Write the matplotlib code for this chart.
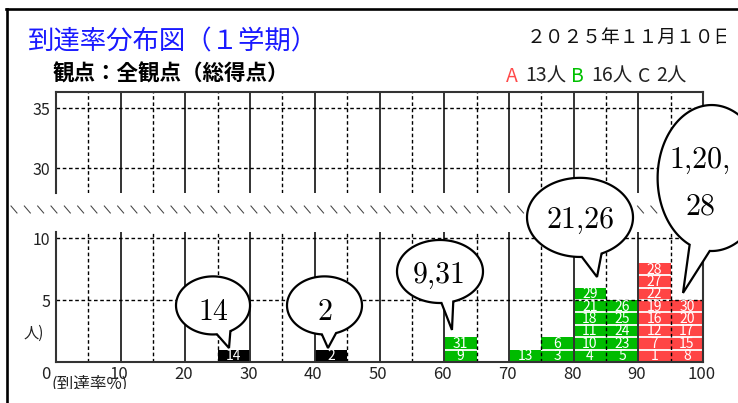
import matplotlib
matplotlib.use("Agg")
import matplotlib.pyplot as plt
import matplotlib.transforms as mtransforms
from matplotlib.lines import Line2D
from matplotlib.path import Path
from matplotlib.patches import PathPatch
import numpy as np

# ---------------- data ----------------
bin_starts = [25, 40, 60, 70, 75, 80, 85, 90, 95]
bin_students = [
    [14],
    [2],
    [9, 31],
    [13],
    [3, 6],
    [4, 10, 11, 18, 21, 29],
    [5, 23, 24, 25, 26],
    [1, 7, 12, 16, 19, 22, 27, 28],
    [8, 15, 17, 20, 30],
]
bin_grades = ["C", "C", "B", "B", "B", "B", "B", "A", "A"]
grade_names = ["A", "B", "C"]

callout_texts = ["14", "2", "9,31", "21,26", "1,20,\n28"]
callout_bins = [25, 40, 60, 80, 95]

x_ticks = [0, 10, 20, 30, 40, 50, 60, 70, 80, 90, 100]
y_ticks_low = [5, 10]
y_ticks_high = [30, 35]

title_text = "到達率分布図（１学期）"
subtitle_text = "観点：全観点（総得点）"
date_text = "２０２５年１１月１０日"
x_label_text = "(到達率%)"
y_label_text = "人)"
unit_text = "人"

# ---------------- style ----------------
W, H = 738, 403
CJK = ["Noto Sans CJK JP", "DejaVu Sans"]
NARROW = ["Liberation Sans Narrow", "Noto Sans CJK JP", "DejaVu Sans"]
grade_colors = {"A": "#ff4444", "B": "#00bb00", "C": "#000000"}
legend_colors = {"A": "#ff4a4a", "B": "#00c000", "C": "#222222"}
grid_solid = "#333333"
dash = (0, (2.6, 1.9))

fig = plt.figure(figsize=(W / 100, H / 100), dpi=100)


def fx(px):
    return px / W


def fy(py):
    return 1 - py / H


# upper (broken) panel first so the lower panel's callouts sit above it
ax_top = fig.add_axes([fx(56), fy(193), (703 - 56) / W, (193 - 92) / H])
ax_bot = fig.add_axes([fx(56), fy(362), (703 - 56) / W, (362 - 232) / H])
ax_top.set_ylim(27.94, 36.36)
ax_bot.set_ylim(0, 10.5)

for ax, yt in ((ax_top, y_ticks_high), (ax_bot, y_ticks_low)):
    ax.set_xlim(0, 100)
    ax.set_facecolor("none")
    for v in range(10, 100, 10):
        ax.axvline(v, color=grid_solid, lw=1.4, zorder=2)
    for v in range(5, 100, 10):
        ax.axvline(v, color="black", lw=1.0, ls=dash, zorder=2)
    for v in yt:
        ax.axhline(v, color="black", lw=1.0, ls=dash, zorder=2)
    for s in ax.spines.values():
        s.set_color(grid_solid)
        s.set_linewidth(1.5)
        s.set_zorder(2.5)
    ax.set_xticks([])
    ax.set_yticks(yt, [str(v) for v in yt], fontfamily=NARROW, fontsize=11.5,
                  color="#222222")
    ax.tick_params(axis="y", length=0, pad=4.3)

ax_top.spines["bottom"].set_visible(False)
ax_bot.spines["top"].set_visible(False)

# stacked student cells
for start, ids, g in zip(bin_starts, bin_students, bin_grades):
    n = len(ids)
    levels = np.arange(n)
    ax_bot.bar([start] * n, [1] * n, width=5, bottom=levels, align="edge",
               color=grade_colors[g], linewidth=0, zorder=1)
    if n > 1:
        ax_bot.hlines(levels[1:], start, start + 5, color="white", lw=1.3,
                      zorder=1.5)
    for k, sid in enumerate(ids):
        ax_bot.text(start + 2.5, k + 0.47, str(sid), color="white",
                    fontfamily=NARROW, fontsize=10, ha="center",
                    va="center", zorder=3)

# x tick labels
xlab_tf = mtransforms.blended_transform_factory(ax_bot.transData,
                                                ax_bot.transAxes)
for v in x_ticks:
    if v == 0:
        ha, dx = "right", -6
    else:
        ha, dx = "center", -1.5
    off = mtransforms.ScaledTranslation(dx / 100, -4 / 100, fig.dpi_scale_trans)
    ax_bot.text(v, 0, str(v), transform=xlab_tf + off, ha=ha, va="top",
                fontfamily=NARROW, fontsize=12, color="#222222")

# speech-bubble callouts: centre, size, tail gap angles, tip offset, text spot
callout_layout = [
    (24.27, 4.57, 11.44, 4.69, -84, -62, 1.74, 0.13, 24.27, 3.40),
    (41.50, 4.57, 11.59, 4.69, -94, -72, 2.04, 0.13, 41.50, 3.40),
    (59.35, 7.31, 13.29, 5.09, -88, -72, 1.20, 0.59, 59.20, 6.39),
    (80.99, 11.68, 16.38, 6.39, -88, -66, 3.62, 0.87, 81.07, 10.83),
    (101.33, 14.86, 16.69, 11.79, -114, -92, 1.91, 0.58, 99.54, 15.67),
]
bar_height = {s: len(ids) for s, ids in zip(bin_starts, bin_students)}
line_gap = 47 / 12.38

for txt, b, lay in zip(callout_texts, callout_bins, callout_layout):
    cx, cy, w, h, t1, t2, tdx, tgap, tx, tby = lay
    tip = (b + tdx, bar_height[b] + tgap)
    ts = np.radians(np.linspace(t2, t1 + 360, 240))
    xs = cx + w / 2 * np.cos(ts)
    ys = cy + h / 2 * np.sin(ts)
    verts = list(zip(xs, ys)) + [tip, (xs[0], ys[0])]
    codes = [Path.MOVETO] + [Path.LINETO] * (len(verts) - 2) + [Path.CLOSEPOLY]
    patch = PathPatch(Path(verts, codes), facecolor="white", edgecolor="black",
                      lw=1.6, joinstyle="miter", transform=ax_bot.transData,
                      clip_on=False, zorder=6)
    ax_bot.add_patch(patch)
    for i, line in enumerate(txt.split("\n")):
        ax_bot.text(tx, tby - i * line_gap, line, fontfamily=["cmr10", "DejaVu Serif"],
                    fontsize=21.5, ha="center", va="baseline", zorder=7,
                    clip_on=False)

# axis break marks between the panels
for k in range(54):
    x0 = 11 + 13.33 * k
    fig.add_artist(Line2D([fx(x0), fx(x0 + 6)], [fy(206), fy(213)],
                          color="#444444", lw=0.75, zorder=-1))

# outer frame
fig.add_artist(Line2D([fx(6), fx(W + 2)], [fy(8.5), fy(8.5)], color="black",
                      lw=1.9, zorder=4))
fig.add_artist(Line2D([fx(7), fx(7)], [fy(8.5), fy(H + 2)], color="black",
                      lw=1.9, zorder=4))

# headings
fig.text(fx(28), fy(41.5), title_text, color="#1a1aff", fontsize=19,
         fontfamily=CJK, ha="left", va="center")
fig.text(fx(53), fy(73.5), subtitle_text, color="black", fontsize=15.5,
         fontweight="bold", fontfamily=CJK, ha="left", va="center")
date = fig.text(fx(527), fy(37.5), date_text, color="#111111", fontsize=13.5,
                fontfamily=CJK, ha="left", va="center")
date.set_clip_box(mtransforms.TransformedBbox(
    mtransforms.Bbox([[0, 0], [fx(726), 1]]), fig.transFigure))
date.set_clip_on(True)

# grade legend with head counts
counts = {g: 0 for g in grade_names}
for ids, g in zip(bin_students, bin_grades):
    counts[g] += len(ids)
legend_x = {"A": (506, 525), "B": (571, 591), "C": (638, 656)}
for g in grade_names:
    lx, nx = legend_x[g]
    fig.text(fx(lx), fy(76), g, color=legend_colors[g], fontsize=14,
             fontfamily=NARROW, ha="left", va="center")
    fig.text(fx(nx), fy(76), f"{counts[g]}{unit_text}", color="#222222",
             fontsize=14, fontfamily=NARROW, ha="left", va="center")

# axis captions
fig.text(fx(24), fy(333), y_label_text, color="#222222", fontsize=11,
         fontfamily=CJK, ha="left", va="center")
xl = fig.text(fx(52), fy(376), x_label_text, color="#222222", fontsize=12,
              fontfamily=CJK, ha="left", va="top")
xl.set_clip_box(mtransforms.TransformedBbox(
    mtransforms.Bbox([[0, fy(389)], [1, 1]]), fig.transFigure))
xl.set_clip_on(True)

fig.savefig("out.png", dpi=100)
